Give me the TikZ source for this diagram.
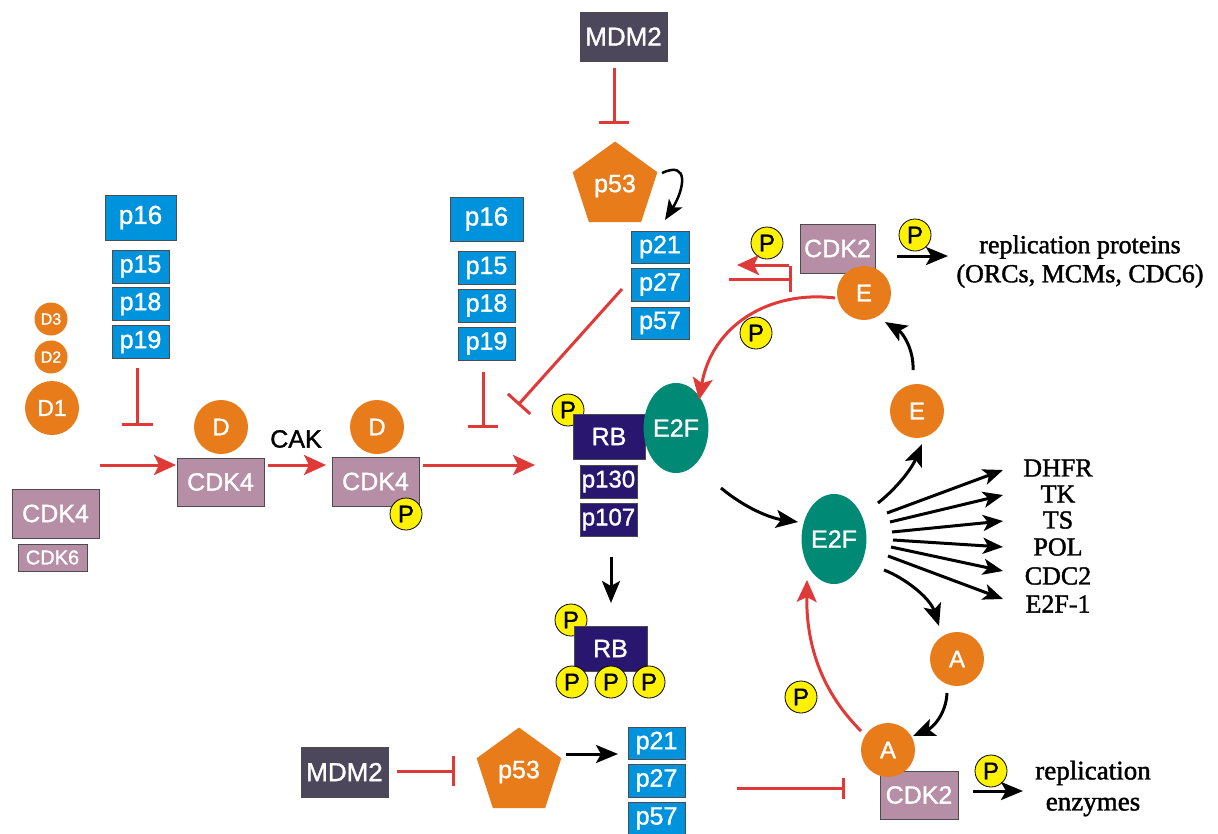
\documentclass[tikz,border=0pt]{standalone}
\usepackage{fontspec}
\newfontfamily\sansf{Liberation Sans}[FakeBold=1.3]
\newfontfamily\seriff{Liberation Serif}[FakeBold=1.5]
\usetikzlibrary{arrows.meta,shapes.geometric}

\definecolor{kblue}{RGB}{0,147,221}
\definecolor{korange}{RGB}{232,123,26}
\definecolor{kmauve}{RGB}{182,142,166}
\definecolor{knavy}{RGB}{41,22,111}
\definecolor{kteal}{RGB}{0,138,118}
\definecolor{kslate}{RGB}{76,71,90}
\definecolor{kred}{RGB}{224,58,56}
\definecolor{kyellow}{RGB}{255,242,0}

\newcommand\fs[1]{\fontsize{#1}{#1}\selectfont}

\begin{document}
\begin{tikzpicture}[x=1pt,y=-1pt,
  box/.style={rectangle, draw=black!70, line width=0.8pt, inner sep=0pt, text=white, font=\sansf\fs{25}},
  inhbox/.style={box, fill=kblue, minimum width=57pt, minimum height=33pt},
  bigbox/.style={box, fill=kblue, minimum height=45pt, font=\sansf\fs{26}},
  cdkbox/.style={box, fill=kmauve, minimum width=87pt, minimum height=49pt},
  rbbox/.style={box, fill=knavy, minimum width=72pt, minimum height=45pt},
  pocket/.style={box, fill=knavy, minimum width=57pt, minimum height=33pt, font=\sansf\fs{24}},
  mdmbox/.style={box, fill=kslate, minimum width=87pt, minimum height=49pt, font=\sansf\fs{26}},
  cyclin/.style={circle, fill=korange, inner sep=0pt, minimum size=54pt, text=white, font=\sansf\fs{24}},
  smallcyc/.style={cyclin, minimum size=33pt, font=\sansf\fs{16}},
  tf/.style={ellipse, fill=kteal, inner sep=0pt, text=white, font=\sansf\fs{25}, minimum width=63pt, minimum height=90pt},
  pent/.style={regular polygon, regular polygon sides=5, fill=korange, inner sep=0pt, minimum size=89pt, text=white, font=\sansf\fs{25}},
  phos/.style={circle, fill=kyellow, draw=black, line width=0.8pt, minimum size=32pt, inner sep=0pt, font=\sansf\fs{24}},
  lbl/.style={font=\seriff\fs{26}, inner sep=0pt, align=center},
  redline/.style={draw=kred, line width=3pt},
  act/.style={redline, -{Stealth[length=22pt,width=20pt,inset=5pt]}},
  inh/.style={redline, -{Bar[width=30pt]}},
  blk/.style={draw=black, line width=3pt, -{Stealth[length=22pt,width=18pt,inset=5pt]}},
]
\useasboundingbox (0,0) rectangle (1218,833);

% ---------- cyclin D family and free CDK4/6 ----------
\node[smallcyc] (d3) at (51,319) {D3};
\node[smallcyc] (d2) at (51,357) {D2};
\node[cyclin, font=\sansf\fs{23}] (d1) at (52,408) {D1};
\node[cdkbox] (cdk4free) at (55.5,513.5) {CDK4};
\node[cdkbox, minimum width=69pt, minimum height=27pt, font=\sansf\fs{20}] (cdk6) at (52.5,557.5) {CDK6};

% ---------- INK4 inhibitors (left) ----------
\node[bigbox, minimum width=71pt] (p16a) at (140.5,217.5) {p16};
\node[inhbox] (p15a) at (140.5,266.5) {p15};
\node[inhbox] (p18a) at (140.5,304) {p18};
\node[inhbox] (p19a) at (140.5,342) {p19};

% ---------- cyclin D / CDK4 complexes ----------
\node[cdkbox, minimum height=48pt] (cdk4a) at (220.5,482) {CDK4};
\node[cyclin] (da) at (221,427) {D};
\node[font=\sansf\fs{25}, inner sep=0pt] (cak) at (296,439) {CAK};
\node[cdkbox] (cdk4b) at (375.5,481.5) {CDK4};
\node[cyclin] (db) at (377,427) {D};
\node[phos] (pb) at (406,514) {P};

% ---------- INK4 inhibitors (middle) ----------
\node[bigbox, minimum width=73pt, minimum height=44pt] (p16b) at (486.5,219) {p16};
\node[inhbox] (p15b) at (486.5,268) {p15};
\node[inhbox] (p18b) at (486.5,305.5) {p18};
\node[inhbox] (p19b) at (486.5,343.5) {p19};

% ---------- MDM2 / p53 / CIP-KIP (top) ----------
\node[mdmbox] (mdm2a) at (623.5,36.5) {MDM2};
\node[pent] (p53a) at (615,186) {p53};
\node[inhbox, minimum width=58pt, minimum height=32pt] (p21a) at (660,247) {p21};
\node[inhbox, minimum width=58pt] (p27a) at (660,284.5) {p27};
\node[inhbox, minimum width=58pt, minimum height=32pt] (p57a) at (660,323) {p57};

% ---------- RB / E2F ----------
\node[phos] (prb) at (568,410) {P};
\node[rbbox] (rb1) at (609,436.5) {RB};
\node[tf, minimum width=62pt] (e2fa) at (676,428) {E2F};
\node[pocket] (p130) at (608.5,481.5) {p130};
\node[pocket] (p107) at (608.5,519.5) {p107};

\node[phos] (prb2) at (571,620) {P};
\node[rbbox, minimum width=73pt] (rb2) at (610.5,648.5) {RB};
\node[phos] (prb3) at (572,682) {P};
\node[phos] (prb4) at (611,682) {P};
\node[phos] (prb5) at (649,682) {P};

\node[tf, minimum width=64pt] (e2fb) at (834,539) {E2F};

% ---------- cyclin E / CDK2 ----------
\node[phos] (pe1) at (767,243) {P};
\node[cdkbox, minimum width=75pt] (cdk2a) at (837.5,248.5) {CDK2};
\node[cyclin] (ea) at (864,293) {E};
\node[phos] (pe2) at (915,235) {P};
\node[lbl, font=\seriff\fontsize{26}{29}\selectfont] (repprot) at (1080,261.5) {replication proteins\\(ORCs, MCMs, CDC6)};
\node[phos] (pe3) at (756,333) {P};
\node[cyclin] (eb) at (917,411) {E};

% ---------- E2F target genes ----------
\node[lbl] (dhfr) at (1058,468) {DHFR};
\node[lbl] (tk) at (1058,494) {TK};
\node[lbl] (ts) at (1058,520) {TS};
\node[lbl] (pol) at (1058,547) {POL};
\node[lbl] (cdc2) at (1058,576) {CDC2};
\node[lbl] (e2f1) at (1058,604) {E2F-1};

% ---------- cyclin A / CDK2 ----------
\node[cyclin] (aa) at (957,659) {A};
\node[cdkbox, minimum width=78pt, minimum height=48pt] (cdk2b) at (919,795) {CDK2};
\node[cyclin] (ab) at (888,750) {A};
\node[phos] (pa1) at (991,771) {P};
\node[lbl, font=\seriff\fontsize{27}{31}\selectfont] (repenz) at (1093,788.5) {replication\\enzymes};
\node[phos] (pa2) at (801,697) {P};

% ---------- MDM2 / p53 / CIP-KIP (bottom) ----------
\node[mdmbox, minimum height=50pt] (mdm2b) at (344.5,772) {MDM2};
\node[pent] (p53b) at (519,772) {p53};
\node[inhbox, minimum height=32pt] (p21b) at (656.5,743) {p21};
\node[inhbox] (p27b) at (656.5,780.5) {p27};
\node[inhbox] (p57b) at (656.5,818.5) {p57};

% ---------- connector end points ----------
\coordinate (in1s) at (100,465);   \coordinate (in1e) at (176,465);
\coordinate (cak1s) at (268,465);  \coordinate (cak1e) at (326,465);
\coordinate (rbs) at (423,465);    \coordinate (rbe) at (535,465);
\coordinate (ink1s) at (137,368);  \coordinate (ink1e) at (137,426);
\coordinate (ink2s) at (483,372);  \coordinate (ink2e) at (483,428);
\coordinate (kip1s) at (622,289);  \coordinate (kip1e) at (518,405);
\coordinate (mdm1s) at (614,68);   \coordinate (mdm1e) at (614,124);
\coordinate (self1s) at (662,173); \coordinate (self1e) at (665,220);
\coordinate (pe1s) at (789,265);   \coordinate (pe1e) at (737,265);
\coordinate (kip2s) at (729,279);  \coordinate (kip2e) at (792,279);
\coordinate (rp1s) at (897,256);   \coordinate (rp1e) at (948,256);
\coordinate (ecs) at (835,298);    \coordinate (ece) at (699,400);
\coordinate (ees) at (913,370);    \coordinate (eee) at (885,322);
\coordinate (rbds) at (611,557);   \coordinate (rbde) at (611,603);
\coordinate (e2fs) at (721,488);   \coordinate (e2fe) at (798,522);
\coordinate (toEs) at (878,503);   \coordinate (toEe) at (922,444);
\coordinate (toAs) at (884,570);   \coordinate (toAe) at (939,626);
\coordinate (aas) at (947,693);    \coordinate (aae) at (913,736);
\coordinate (acs) at (861,731);    \coordinate (ace) at (807,580);
\coordinate (re1s) at (973,791);   \coordinate (re1e) at (1023,791);
\coordinate (mdm2s) at (397,771);  \coordinate (mdm2e) at (455,771);
\coordinate (p53s) at (566,754);   \coordinate (p53e) at (618,754);
\coordinate (kip3s) at (737,788);  \coordinate (kip3e) at (845,788);

% ---------- red activation arrows ----------
\draw[act] (in1s) -- (in1e);
\draw[act] (cak1s) -- (cak1e);
\draw[act] (rbs) -- (rbe);
\draw[act] (pe1s) -- (pe1e);
\draw[act] (ecs) .. controls (770,290) and (712,325) .. (ece);
\draw[act] (acs) .. controls (825,695) and (806,650) .. (ace);

% ---------- red inhibition bars ----------
\draw[inh, -{Bar[width=31pt]}] (ink1s) -- (ink1e);
\draw[inh] (ink2s) -- (ink2e);
\draw[inh] (kip1s) -- (kip1e);
\draw[inh] (mdm1s) -- (mdm1e);
\draw[inh, -{Bar[width=26pt]}] (kip2s) -- (kip2e);
\draw[inh] (mdm2s) -- (mdm2e);
\draw[inh, -{Bar[width=21pt]}] (kip3s) -- (kip3e);

% ---------- black arrows ----------
\draw[blk, line width=2.5pt, -{Stealth[length=20pt,width=16pt,inset=5pt]}] (self1s) .. controls (690,160) and (684,190) .. (self1e);
\draw[blk] (rp1s) -- (rp1e);
\draw[blk] (ees) .. controls (914,350) and (903,333) .. (eee);
\draw[blk] (rbds) -- (rbde);
\draw[blk] (e2fs) .. controls (745,508) and (770,518) .. (e2fe);
\draw[blk] (toEs) .. controls (898,487) and (912,468) .. (toEe);
\draw[blk] (toAs) .. controls (905,578) and (930,598) .. (toAe);
\draw[blk] (aas) .. controls (946,715) and (932,728) .. (aae);
\draw[blk] (re1s) -- (re1e);
\draw[blk] (p53s) -- (p53e);

% fan of E2F target genes
\begin{scope}[blk, -{Stealth[length=20pt,width=16pt,inset=5pt]}]
  \draw (887,513) -- (1003,470);
  \draw (890,522) -- (1003,495);
  \draw (892,532) -- (1003,521);
  \draw (893,540) -- (1003,547);
  \draw (891,547) -- (1003,571);
  \draw (888,556) -- (1003,599);
\end{scope}

\end{tikzpicture}
\end{document}
